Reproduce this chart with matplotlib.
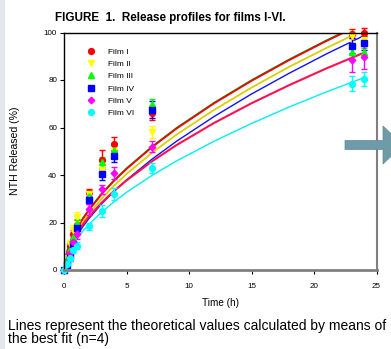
#!/usr/bin/env python3

import numpy as np
import matplotlib.pyplot as plt
from matplotlib.patches import FancyArrow, Rectangle

plt.rcParams['font.family'] = ['Liberation Sans', 'DejaVu Sans']

# measured release (%) with SD
t = [0, 0.25, 0.5, 0.75, 1, 2, 3, 4, 7, 23, 24]
film1 = [0, 4, 10, 15, 19, 33, 46.5, 53, 66, 99.5, 100]
film2 = [0, 5, 11, 17, 22.5, 32, 42, 50, 58, 98.5, 97]
film3 = [0, 4.5, 9, 14, 20, 31, 45.5, 50.5, 70, 92, 92]
film4 = [0, 2, 6, 11, 17.5, 29.5, 40.5, 48, 67.5, 94.5, 95.5]
film5 = [0, 3, 7, 12, 15, 25.5, 34, 41, 52, 88.5, 89.5]
film6 = [0, 2.5, 5, 8.5, 10.3, 18.5, 25, 32, 43, 78.5, 80.5]
err1 = [0, 1, 1.5, 2, 2, 1, 4, 3, 3, 2, 2]
err2 = [0, 1, 1.5, 2, 2, 1.5, 2.5, 2.5, 2.5, 2, 2]
err3 = [0, 1, 1, 1.5, 1.5, 1.5, 2, 2, 2, 1.5, 1.5]
err4 = [0, 1, 2, 2, 2, 1.5, 2.5, 2.5, 3.5, 3, 3]
err5 = [0, 1, 1.5, 2, 2, 2.5, 2, 2.5, 2.5, 5, 5]
err6 = [0, 1, 1, 1.5, 1.5, 1.5, 2.5, 2.5, 2, 3, 3]

# best-fit curves
tfit = [0, 0.1, 0.25, 0.5, 1, 1.5, 2, 3, 4, 5, 7, 9, 12, 15, 18, 21, 24]
fit1 = [0, 4.6, 7.7, 11.5, 17.0, 21.4, 25.2, 31.8, 37.5, 42.5, 51.5, 59.5, 70.1, 79.6, 88.3, 96.4, 104.0]
fit2 = [0, 4.1, 7.0, 10.5, 15.8, 20.0, 23.7, 30.0, 35.5, 40.4, 49.2, 57.0, 67.4, 76.8, 85.5, 93.5, 101.1]
fit3 = [0, 4.7, 7.9, 11.8, 17.3, 21.7, 25.5, 32.1, 37.8, 42.8, 51.8, 59.8, 70.4, 79.9, 88.6, 96.7, 104.3]
fit4 = [0, 3.5, 6.1, 9.3, 14.2, 18.2, 21.7, 27.8, 33.1, 37.9, 46.5, 54.2, 64.6, 74.1, 82.8, 91.0, 98.7]
fit5 = [0, 4.1, 6.9, 10.3, 15.2, 19.1, 22.5, 28.3, 33.3, 37.7, 45.6, 52.6, 61.9, 70.2, 77.8, 84.9, 91.5]
fit6 = [0, 3.4, 5.8, 8.6, 12.9, 16.3, 19.3, 24.3, 28.7, 32.7, 39.7, 45.9, 54.2, 61.7, 68.6, 75.0, 81.0]

labels = ['Film I', 'Film II', 'Film III', 'Film IV', 'Film V', 'Film VI']

fig = plt.figure(figsize=(3.91, 3.49), dpi=100)
fig.patch.set_facecolor('white')
fig.patches.append(Rectangle((0, 0), 5 / 391, 1, transform=fig.transFigure,
                             facecolor='#e6e6ee', edgecolor='none', zorder=0))
fig.patches.append(FancyArrow(345 / 391, 1 - 145 / 349, 38 / 391, 0, width=9 / 349,
                              head_width=38 / 349, head_length=20 / 391,
                              length_includes_head=False, transform=fig.transFigure,
                              facecolor='#6f9aa8', edgecolor='#5f8a98', lw=0.5, zorder=0))

ax = fig.add_axes([64 / 391, 1 - 270 / 349, 312.5 / 391, 237.5 / 349])
ax.set_facecolor('none')

# fit lines
ax.plot(tfit, fit3, color='#008a00', lw=1.2)
ax.plot(tfit, fit1, color='#ff0000', lw=1.2)
ax.plot(tfit, fit2, color='#d8d000', lw=1.3)
ax.plot(tfit, fit4, color='#1010ff', lw=1.0)
ax.plot(tfit, fit5, color='#ff1050', lw=1.5)
ax.plot(tfit, fit6, color='#00f0f0', lw=1.0)

series = [
    (film1, err1, 'o', '#ff0000'),
    (film2, err2, 'v', '#ffff00'),
    (film3, err3, '^', '#00ff00'),
    (film4, err4, 's', '#0000ff'),
    (film5, err5, 'D', '#ff00ff'),
    (film6, err6, 'o', '#00ffff'),
]
handles = []
for (y, e, m, c), lab in zip(series, labels):
    ms = 3.3 if m == 'D' else 4.2
    h = ax.errorbar(t, y, yerr=e, fmt=m, color=c, ms=ms, mec=c, elinewidth=1,
                    capsize=2.5, capthick=1, label=lab)
    for a in [h.lines[0]] + list(h.lines[1]) + list(h.lines[2]):
        a.set_clip_on(False)
    handles.append(ax.plot([], [], m, color=c, ms=ms, label=lab)[0])

ax.set_xlim(0, 25)
ax.set_ylim(0, 100)
ax.set_xticks([0, 5, 10, 15, 20, 25])
ax.set_yticks([0, 20, 40, 60, 80, 100])

for s in ['top', 'left']:
    ax.spines[s].set_color('black')
    ax.spines[s].set_linewidth(1.0)
ax.spines['right'].set_color('#808080')
ax.spines['right'].set_linewidth(1.5)
ax.spines['bottom'].set_color('#808080')
ax.spines['bottom'].set_linewidth(2.0)
ax.tick_params(axis='y', direction='out', length=3, width=0.8, pad=2, labelsize=5.8)
ax.tick_params(axis='x', direction='out', length=3, width=0.8, pad=6, labelsize=5.8)

leg = ax.legend(handles=handles, loc='upper left', bbox_to_anchor=(0.062, 0.948),
                frameon=False, fontsize=6, handlelength=1.0, handletextpad=1.5,
                labelspacing=0.52, borderaxespad=0)

fig.text(55 / 391, 1 - 21 / 349, 'FIGURE  1.  Release profiles for films I-VI.',
         fontsize=8.4, fontweight='bold', va='baseline', ha='left')
fig.text(15 / 391, 1 - 151 / 349, 'NTH Released (%)', fontsize=7.6, rotation=90,
         va='center', ha='center')
fig.text(220 / 391, 1 - 303 / 349, 'Time (h)', fontsize=7.2, va='center', ha='center')
fig.text(8 / 391, 1 - 330 / 349,
         'Lines represent the theoretical values calculated by means of',
         fontsize=10, va='baseline', ha='left')
fig.text(8 / 391, 1 - 343.5 / 349, 'the best fit (n=4)', fontsize=10, va='baseline', ha='left')

fig.savefig('out.png', dpi=100)
